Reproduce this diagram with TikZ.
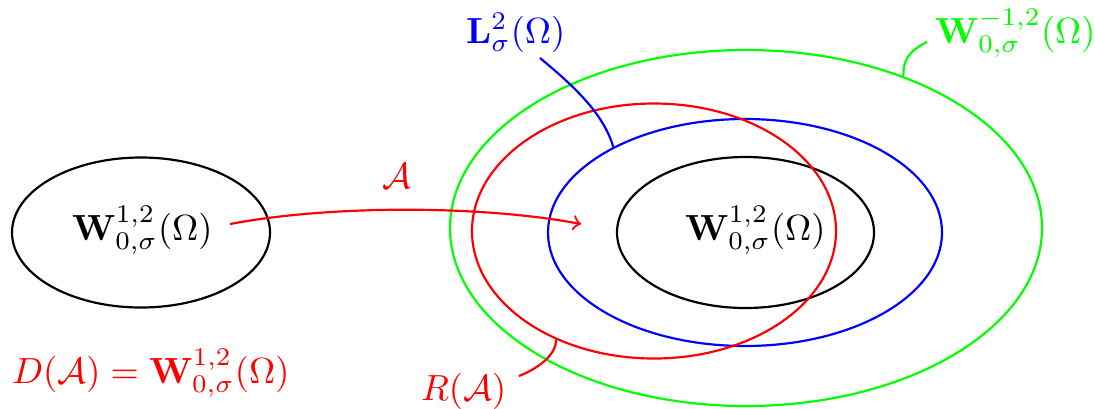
\documentclass[tikz,border=0pt]{standalone}
\usetikzlibrary{shapes.geometric}
\begin{document}
\begin{tikzpicture}[x=0.275pt,y=-0.275pt,semithick,
  oval/.style={draw,ellipse,inner sep=0pt},
  lbl/.style={inner sep=0pt,anchor=base west}]
\useasboundingbox (0,0) rectangle (1095,408);
% ellipses
\node[oval,minimum width=258*0.275pt,minimum height=150*0.275pt] (E1) at (141,232.5) {};
\node[oval,minimum width=257*0.275pt,minimum height=151*0.275pt] (E2) at (745.5,232.5) {};
\node[oval,blue,minimum width=394*0.275pt,minimum height=227*0.275pt] (EB) at (745,232.5) {};
\node[oval,red,minimum width=364*0.275pt,minimum height=255*0.275pt] (ER) at (654,231) {};
\node[oval,green,minimum width=592*0.275pt,minimum height=356*0.275pt] (EG) at (746,228) {};
% texts
\node[lbl] (T1) at (71,240) {$\mathbf{W}^{1,2}_{0,\sigma}(\Omega)$};
\node[lbl] (T2) at (684,240) {$\mathbf{W}^{1,2}_{0,\sigma}(\Omega)$};
\node[lbl,blue] (LB) at (465,43) {$\mathbf{L}^{2}_{\sigma}(\Omega)$};
\node[lbl,green] (LG) at (934,43) {$\mathbf{W}^{-1,2}_{0,\sigma}(\Omega)$};
\node[lbl,red] (LR) at (420,400) {$R(\mathcal{A})$};
\node[lbl,red] (LD) at (11,383) {$D(\mathcal{A})=\mathbf{W}^{1,2}_{0,\sigma}(\Omega)$};
\node[lbl,red] (LA) at (381,188) {$\mathcal{A}$};
% connector ends
\coordinate (a1) at (230,224);
\coordinate (a2) at (581,224);
\coordinate (cb) at (540,58);
\coordinate (cg) at (927,42);
\coordinate (cr) at (519,376);
% connectors
\draw[red,->] (a1) .. controls (330,205) and (480,205) .. (a2);
\draw[blue] (cb) .. controls +(30,25) and +(-10,-35) .. (EB.147.9);
\draw[green] (cg) .. controls +(-20,10) and +(0,-15) .. (EG.44.4);
\draw[red] (cr) .. controls +(20,-8) and +(0,15) .. (ER.228.5);
\end{tikzpicture}
\end{document}
